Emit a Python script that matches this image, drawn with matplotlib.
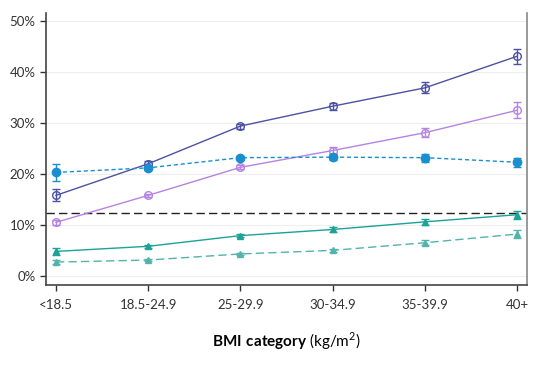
import matplotlib
matplotlib.use("Agg")
import matplotlib.pyplot as plt

categories = ["<18.5", "18.5-24.9", "25-29.9", "30-34.9", "35-39.9", "40+"]

navy = [15.8, 22.0, 29.4, 33.3, 36.9, 43.1]
navy_err = [1.2, 0.6, 0.5, 0.7, 1.1, 1.5]
purple = [10.5, 15.8, 21.3, 24.6, 28.1, 32.5]
purple_err = [0.5, 0.3, 0.4, 0.6, 0.9, 1.6]
blue = [20.3, 21.2, 23.2, 23.3, 23.2, 22.3]
blue_err = [1.7, 0.4, 0.4, 0.6, 0.8, 0.9]
teal = [4.8, 5.8, 7.9, 9.1, 10.6, 12.0]
teal_err = [0.7, 0.3, 0.3, 0.4, 0.6, 0.8]
teal_light = [2.7, 3.1, 4.3, 5.0, 6.5, 8.2]
teal_light_err = [0.4, 0.2, 0.2, 0.3, 0.5, 0.8]
ref_line = 12.35

plt.rcParams['font.family'] = ['Lato', 'DejaVu Sans']
plt.rcParams['mathtext.fontset'] = 'custom'
plt.rcParams['mathtext.rm'] = 'Lato'
plt.rcParams['mathtext.bf'] = 'Lato:bold'

fig = plt.figure(figsize=(5.37, 3.68), dpi=100)
ax = fig.add_axes([0.0857, 0.2255, 0.8957, 0.7392])
x = list(range(len(categories)))

for yy in range(0, 51, 10):
    ax.axhline(yy, color="#eeeeee", lw=0.8, zorder=0)

ax.axhline(ref_line, color="#222222", lw=1.0, ls=(0, (6, 3)), zorder=1)

def series(vals, err, color, marker, ls, mfc, ms=6):
    ax.errorbar(x, vals, yerr=err, color=color, lw=1.0, ls=ls, marker=marker,
                ms=ms, mfc=mfc, mec=color, mew=1.0, capsize=2.8, elinewidth=1.0,
                capthick=1.0, zorder=3)

series(navy, navy_err, "#4b52a3", "o", "-", "none", 5.5)
series(purple, purple_err, "#b683e3", "o", "-", "none", 5.5)
series(blue, blue_err, "#1a8fcf", "o", (0, (3, 2)), "#1a8fcf", 6)
series(teal, teal_err, "#1aa396", "^", "-", "#1aa396", 5)
series(teal_light, teal_light_err, "#52b3ad", "^", (0, (6, 3)), "#52b3ad", 4.5)

ax.set_xlim(-0.108, 5.108)
ax.set_ylim(-1.8, 51.6)
ax.set_xticks(x)
ax.set_xticklabels(categories)
ax.set_yticks(range(0, 51, 10))
ax.set_yticklabels([f"{v}%" for v in range(0, 51, 10)])
ax.tick_params(labelsize=9.5, colors="#333333", length=4, width=1.0)
ax.tick_params(axis="x", pad=6)

ax.spines["top"].set_visible(False)
ax.spines["left"].set_color("#444444")
ax.spines["bottom"].set_color("#444444")
ax.spines["right"].set_color("#888888")
for s in ["left", "bottom", "right"]:
    ax.spines[s].set_linewidth(1.2)

ax.set_xlabel(r"$\bf{BMI\ category}$ (kg/m$^2$)", fontsize=11, labelpad=14)

fig.savefig("out.png", dpi=100)
